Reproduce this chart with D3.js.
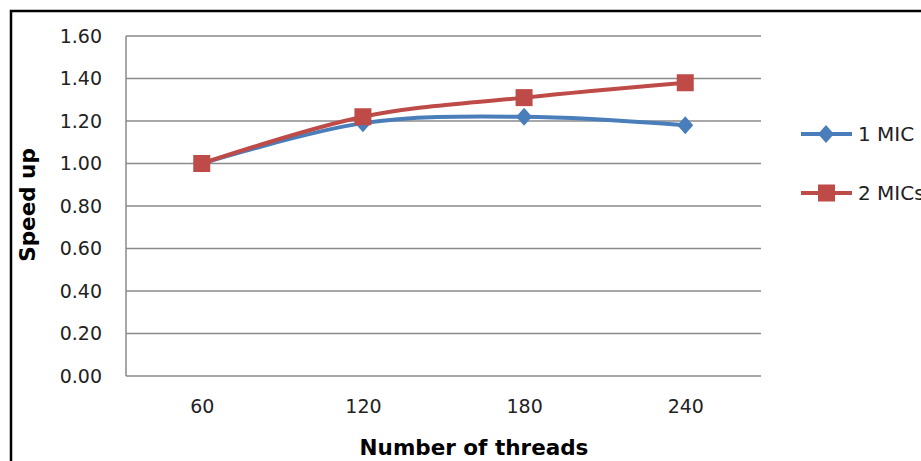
<!DOCTYPE html>
<meta charset="utf-8">
<style>
body { margin: 0; background: #fff; }
svg { display: block; }
.axis-label { font-family: "DejaVu Sans", Verdana, sans-serif; font-size: 19px; fill: #222; }
.title { font-family: "DejaVu Sans", Verdana, sans-serif; font-weight: bold; font-size: 21.5px; fill: #000; }
.legend text { font-family: "DejaVu Sans", Verdana, sans-serif; font-size: 20px; fill: #222; }
</style>
<body>
<div id="chart"></div>
<script src="https://d3js.org/d3.v7.min.js"></script>
<script>

// data
var threads = ["60", "120", "180", "240"];
var mic1 = [1.00, 1.19, 1.22, 1.18];
var mic2 = [1.00, 1.22, 1.31, 1.38];
var yTicks = [0, 0.2, 0.4, 0.6, 0.8, 1.0, 1.2, 1.4, 1.6];
var seriesNames = ["1 MIC", "2 MICs"];

var width = 921,
    height = 461,
    margin = {top: 36, left: 126},
    plotW = 635,
    plotH = 340;

var blue = "#4a7ebb", red = "#be4b48", grid = "#8a8a8a";

var svg = d3.select("#chart").append("svg")
    .attr("width", width)
    .attr("height", height);

// outer frame (runs off the right and bottom edges)
svg.append("rect")
    .attr("x", 11).attr("y", 11)
    .attr("width", 940).attr("height", 480)
    .attr("fill", "none")
    .attr("stroke", "#000")
    .attr("stroke-width", 2.5);

var g = svg.append("g")
    .attr("transform", `translate(${margin.left},${margin.top})`);

var x = d3.scalePoint().domain(threads).range([0, plotW]).padding(0.47);
var y = d3.scaleLinear().domain([0, 1.6]).range([plotH, 0]);

// gridlines
g.selectAll(".grid")
  .data(yTicks)
  .enter().append("line")
    .attr("class", "grid")
    .attr("x1", 0).attr("x2", plotW)
    .attr("y1", d => y(d)).attr("y2", d => y(d))
    .attr("stroke", grid)
    .attr("stroke-width", 1.5);

// left axis line
g.append("line")
    .attr("x1", 0).attr("x2", 0)
    .attr("y1", 0).attr("y2", plotH)
    .attr("stroke", grid)
    .attr("stroke-width", 1.5);

// y axis labels
var yAxis = g.append("g")
    .call(d3.axisLeft(y).tickValues(yTicks).tickFormat(d3.format(".2f")).tickSize(0).tickPadding(24));
yAxis.select(".domain").remove();
yAxis.selectAll("text").attr("class", "axis-label").attr("font-family", null).attr("font-size", null).attr("fill", null);

// x axis labels
var xAxis = g.append("g")
    .attr("transform", `translate(0,${plotH})`)
    .call(d3.axisBottom(x).tickSize(0).tickPadding(24));
xAxis.select(".domain").remove();
xAxis.selectAll("text").attr("class", "axis-label").attr("font-family", null).attr("font-size", null).attr("fill", null);

// axis titles
svg.append("text")
    .attr("class", "title")
    .attr("text-anchor", "middle")
    .attr("x", 474).attr("y", 455)
    .text("Number of threads");

svg.append("text")
    .attr("class", "title")
    .attr("text-anchor", "middle")
    .attr("transform", "translate(35,205) rotate(-90)")
    .text("Speed up");

var line = d3.line()
    .x((d, i) => x(threads[i]))
    .y(d => y(d))
    .curve(d3.curveCatmullRom.alpha(0));

var diamond = "M0,-9L8,0L0,9L-8,0Z";

// 1 MIC
g.append("path")
    .datum(mic1)
    .attr("d", line)
    .attr("fill", "none")
    .attr("stroke", blue)
    .attr("stroke-width", 4);

g.selectAll(".m1")
  .data(mic1)
  .enter().append("path")
    .attr("class", "m1")
    .attr("transform", (d, i) => `translate(${x(threads[i])},${y(d)})`)
    .attr("d", diamond)
    .attr("fill", blue);

// 2 MICs
g.append("path")
    .datum(mic2)
    .attr("d", line)
    .attr("fill", "none")
    .attr("stroke", red)
    .attr("stroke-width", 4);

g.selectAll(".m2")
  .data(mic2)
  .enter().append("rect")
    .attr("class", "m2")
    .attr("x", (d, i) => x(threads[i]) - 8.5)
    .attr("y", d => y(d) - 8.5)
    .attr("width", 17).attr("height", 17)
    .attr("fill", red);

// legend
var legend = svg.append("g").attr("class", "legend");
var legendY = [134, 193];
var colors = [blue, red];

seriesNames.forEach(function(name, i) {
  var row = legend.append("g").attr("transform", `translate(801,${legendY[i]})`);
  row.append("line")
      .attr("x1", 0).attr("x2", 51)
      .attr("stroke", colors[i])
      .attr("stroke-width", 4);
  if (i === 0) {
    row.append("path").attr("d", diamond).attr("transform", "translate(25,0)").attr("fill", colors[i]);
  } else {
    row.append("rect").attr("x", 17).attr("y", -8.5).attr("width", 17).attr("height", 17).attr("fill", colors[i]);
  }
  row.append("text")
      .attr("x", 57)
      .attr("dy", "0.36em")
      .text(name);
});

</script>
</body>
